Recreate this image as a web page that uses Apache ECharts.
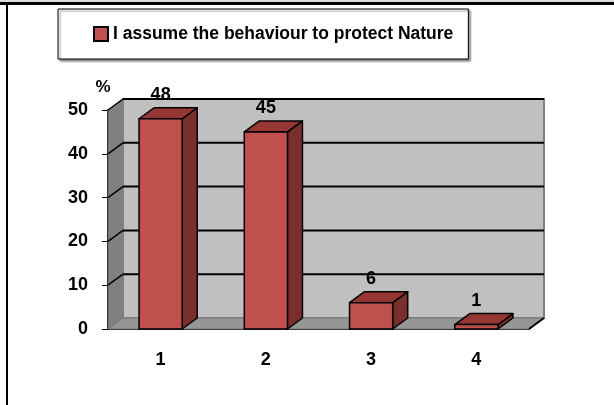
<!DOCTYPE html>
<html>
<head>
<meta charset="utf-8">
<script src="https://cdn.jsdelivr.net/npm/echarts@6/dist/echarts.min.js"></script>
<style>
html,body{margin:0;padding:0;background:#fff;}
#main{width:614px;height:405px;}
</style>
</head>
<body>
<div id="main"></div>
<script>
// 数据
var categories = ['1', '2', '3', '4'];
var values = [48, 45, 6, 1];
var yTicks = [0, 10, 20, 30, 40, 50];
var seriesName = 'I assume the behaviour to protect Nature';

// 3D depth offset
var DX = 15, DY = -11;
var txtFont = 'Liberation Sans';

var chart = echarts.init(document.getElementById('main'));

// back wall, side wall, floor, grid lines
function renderWalls(params, api) {
    var cs = params.coordSys;
    var x0 = cs.x, x1 = cs.x + cs.width;
    var yBot = api.coord([0, 0])[1];
    var yTop = api.coord([0, yTicks[yTicks.length - 1]])[1];
    var children = [];
    // left wall
    children.push({
        type: 'polygon',
        shape: {points: [[x0, yTop], [x0 + DX, yTop + DY], [x0 + DX, yBot + DY], [x0, yBot]]},
        style: {fill: '#808080', stroke: '#666', lineWidth: 1}
    });
    // back wall
    children.push({
        type: 'rect',
        shape: {x: x0 + DX, y: yTop + DY, width: x1 - x0, height: yBot - yTop},
        style: {fill: '#c0c0c0', stroke: '#808080', lineWidth: 2}
    });
    // floor
    children.push({
        type: 'polygon',
        shape: {points: [[x0, yBot], [x1, yBot], [x1 + DX, yBot + DY], [x0 + DX, yBot + DY]]},
        style: {fill: '#969696', stroke: '#7a7a7a', lineWidth: 1}
    });
    for (var i = 1; i < yTicks.length; i++) {
        var y = api.coord([0, yTicks[i]])[1];
        children.push({
            type: 'line',
            shape: {x1: x0 + DX, y1: y + DY, x2: x1 + DX, y2: y + DY},
            style: {stroke: '#000', lineWidth: 2}
        });
        children.push({
            type: 'line',
            shape: {x1: x0, y1: y, x2: x0 + DX, y2: y + DY},
            style: {stroke: '#000', lineWidth: 1.5}
        });
    }
    // floor right diagonal
    children.push({
        type: 'line',
        shape: {x1: x1, y1: yBot, x2: x1 + DX, y2: yBot + DY},
        style: {stroke: '#000', lineWidth: 2}
    });
    return {type: 'group', children: children};
}

// 3D bar with value label
function renderBar(params, api) {
    var idx = api.value(0);
    var val = api.value(1);
    var top = api.coord([idx, val]);
    var base = api.coord([idx, 0]);
    var hw = api.size([1, 0])[0] * 0.41 / 2;
    var l = top[0] - hw, r = top[0] + hw, t = top[1], b = base[1];
    var stroke = {stroke: '#000', lineWidth: 1.5, lineJoin: 'round'};
    return {
        type: 'group',
        children: [{
            type: 'polygon',
            shape: {points: [[r, t], [r + DX, t + DY], [r + DX, b + DY], [r, b]]},
            style: Object.assign({fill: '#7a2f2d'}, stroke)
        }, {
            type: 'polygon',
            shape: {points: [[l, t], [r, t], [r + DX, t + DY], [l + DX, t + DY]]},
            style: Object.assign({fill: '#953735'}, stroke)
        }, {
            type: 'rect',
            shape: {x: l, y: t, width: r - l, height: b - t},
            style: Object.assign({fill: '#c0504d'}, stroke)
        }, {
            type: 'text',
            x: top[0],
            y: t - 24,
            style: {
                text: String(val),
                fill: '#000',
                font: 'bold 18px "' + txtFont + '"',
                align: 'center',
                verticalAlign: 'middle'
            }
        }]
    };
}

var barData = [];
for (var i = 0; i < values.length; i++) {
    barData.push([i, values[i]]);
}

var option = {
    animation: false,
    backgroundColor: '#fff',
    graphic: [
        {type: 'rect', shape: {x: 0, y: 0, width: 614, height: 2}, style: {fill: '#dcdcdc'}},
        {type: 'rect', shape: {x: 0, y: 2, width: 614, height: 3}, style: {fill: '#000'}},
        {type: 'rect', shape: {x: 6, y: 2, width: 2, height: 403}, style: {fill: '#000'}}
    ],
    legend: {
        data: [{name: seriesName, itemStyle: {color: '#c0504d', borderColor: '#000', borderWidth: 2}}],
        left: 58,
        top: 9,
        padding: [13, 15, 13, 35],
        icon: 'rect',
        itemWidth: 14,
        itemHeight: 14,
        borderColor: '#000',
        borderWidth: 1,
        backgroundColor: '#fff',
        shadowColor: 'rgba(0,0,0,0.45)',
        shadowBlur: 2,
        shadowOffsetX: 2,
        shadowOffsetY: 2,
        selectedMode: false,
        textStyle: {
            fontFamily: txtFont,
            fontWeight: 'bold',
            fontSize: 17.5,
            lineHeight: 24,
            color: '#000'
        }
    },
    grid: {left: 108, right: 85, top: 110, bottom: 76},
    xAxis: {
        type: 'category',
        data: categories,
        axisLine: {lineStyle: {color: '#000', width: 2}},
        axisTick: {length: 6, lineStyle: {color: '#000', width: 1}},
        axisLabel: {
            margin: 22,
            color: '#000',
            fontFamily: txtFont,
            fontWeight: 'bold',
            fontSize: 18
        }
    },
    yAxis: {
        type: 'value',
        min: 0,
        max: 50,
        interval: 10,
        name: '%',
        nameLocation: 'end',
        nameGap: 14,
        nameTextStyle: {
            color: '#000',
            fontFamily: txtFont,
            fontWeight: 'bold',
            fontSize: 17,
            padding: [0, 10, 0, 0]
        },
        axisLine: {show: true, lineStyle: {color: '#000', width: 2}},
        axisTick: {show: true, length: 6, lineStyle: {color: '#000', width: 1}},
        splitLine: {show: false},
        axisLabel: {
            margin: 20,
            color: '#000',
            fontFamily: txtFont,
            fontWeight: 'bold',
            fontSize: 18
        }
    },
    series: [{
        type: 'custom',
        name: 'walls',
        silent: true,
        z: 1,
        renderItem: renderWalls,
        data: [[0, 0]]
    }, {
        type: 'custom',
        name: seriesName,
        z: 3,
        itemStyle: {color: '#c0504d'},
        renderItem: renderBar,
        encode: {x: 0, y: 1},
        data: barData
    }]
};
chart.setOption(option);
</script>
</body>
</html>
